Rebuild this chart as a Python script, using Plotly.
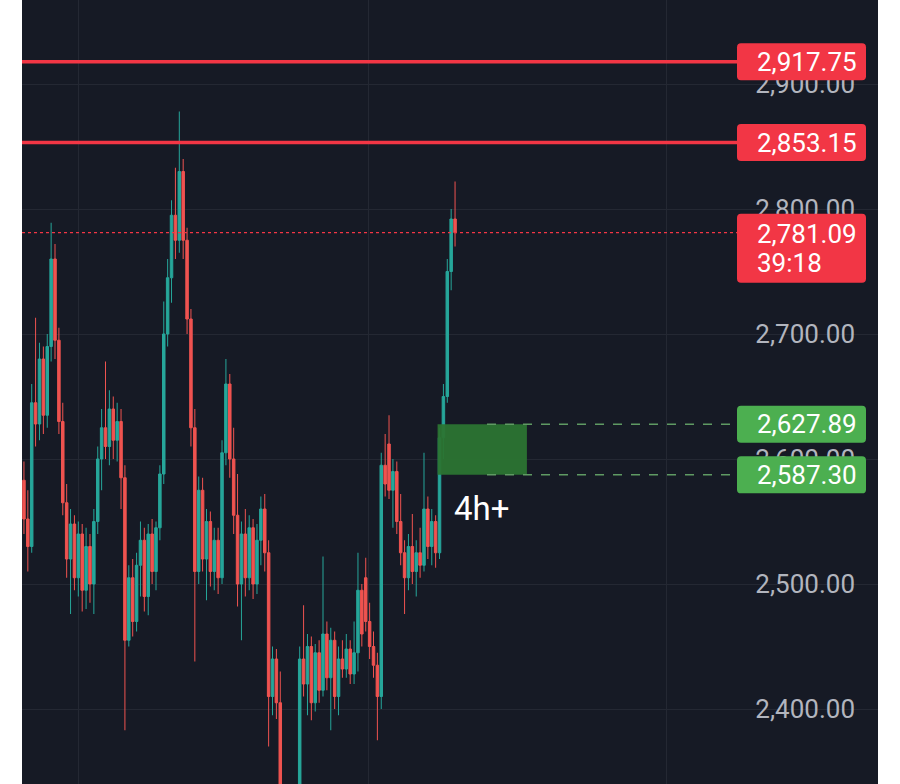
import plotly.graph_objects as go

# ---------------- data ----------------
opens = [2583, 2552, 2530, 2645, 2628, 2680, 2635, 2690, 2760, 2695,
         2630, 2565, 2520, 2548, 2505, 2540, 2495, 2530, 2500, 2550,
         2600, 2625, 2610, 2640, 2615, 2630, 2585, 2455, 2505, 2470,
         2515, 2535, 2490, 2540, 2510, 2545, 2588, 2700, 2745, 2795,
         2775, 2830, 2775, 2712, 2625, 2510, 2575, 2520, 2550, 2510,
         2535, 2505, 2605, 2660, 2600, 2555, 2500, 2540, 2505, 2545,
         2500, 2535, 2560, 2525, 2410, 2440, 2405, 2330, 2300, 2320,
         2305, 2325, 2440, 2420, 2450, 2405, 2445, 2415, 2460, 2425,
         2455, 2410, 2440, 2432, 2448, 2428, 2445, 2495, 2505, 2470,
         2450, 2435, 2410, 2595, 2612, 2575, 2590, 2550, 2525, 2505,
         2530, 2510, 2525, 2515, 2560, 2530, 2550, 2525, 2617, 2650,
         2750, 2792]
highs = [2598, 2575, 2660, 2713, 2693, 2690, 2700, 2789, 2772, 2705,
         2645, 2580, 2560, 2555, 2550, 2548, 2545, 2540, 2560, 2610,
         2640, 2678, 2655, 2650, 2645, 2640, 2595, 2515, 2520, 2525,
         2550, 2545, 2548, 2552, 2550, 2595, 2726, 2760, 2807, 2833,
         2878, 2840, 2785, 2720, 2640, 2586, 2585, 2560, 2558, 2545,
         2545, 2615, 2680, 2668, 2625, 2588, 2550, 2560, 2555, 2552,
         2548, 2570, 2572, 2535, 2450, 2448, 2430, 2336, 2330, 2334,
         2335, 2450, 2483, 2460, 2458, 2452, 2455, 2522, 2470, 2465,
         2462, 2450, 2455, 2460, 2455, 2470, 2525, 2500, 2521, 2485,
         2462, 2445, 2605, 2620, 2635, 2600, 2598, 2572, 2535, 2540,
         2556, 2535, 2545, 2605, 2570, 2560, 2555, 2625, 2660, 2760,
         2800, 2822]
lows = [2540, 2510, 2525, 2610, 2615, 2620, 2625, 2678, 2680, 2620,
        2555, 2505, 2476, 2495, 2490, 2478, 2480, 2485, 2476, 2540,
        2575, 2600, 2595, 2600, 2598, 2560, 2383, 2450, 2458, 2462,
        2490, 2478, 2475, 2500, 2495, 2535, 2580, 2690, 2725, 2760,
        2765, 2760, 2700, 2610, 2438, 2500, 2510, 2487, 2498, 2495,
        2492, 2500, 2595, 2585, 2540, 2482, 2455, 2490, 2495, 2488,
        2492, 2515, 2510, 2370, 2395, 2392, 2310, 2290, 2285, 2295,
        2290, 2315, 2410, 2395, 2391, 2398, 2405, 2410, 2415, 2383,
        2400, 2395, 2425, 2425, 2420, 2420, 2430, 2450, 2462, 2440,
        2425, 2375, 2400, 2570, 2568, 2545, 2540, 2515, 2476, 2495,
        2500, 2490, 2505, 2510, 2520, 2515, 2513, 2520, 2600, 2645,
        2735, 2770]
closes = [2552, 2530, 2645, 2628, 2680, 2635, 2690, 2760, 2695, 2630,
          2565, 2520, 2548, 2505, 2540, 2495, 2530, 2500, 2550, 2600,
          2625, 2610, 2640, 2615, 2630, 2585, 2455, 2505, 2470, 2515,
          2535, 2490, 2540, 2510, 2545, 2588, 2700, 2745, 2795, 2775,
          2830, 2775, 2712, 2625, 2510, 2575, 2520, 2550, 2510, 2535,
          2505, 2605, 2660, 2600, 2555, 2500, 2540, 2505, 2545, 2500,
          2535, 2560, 2525, 2410, 2440, 2405, 2330, 2300, 2320, 2305,
          2325, 2440, 2420, 2450, 2405, 2445, 2415, 2460, 2425, 2455,
          2410, 2440, 2432, 2448, 2428, 2445, 2495, 2460, 2470, 2450,
          2435, 2410, 2595, 2580, 2575, 2590, 2550, 2525, 2505, 2530,
          2510, 2525, 2515, 2560, 2530, 2550, 2525, 2617, 2650, 2750,
          2792, 2781.09]

red_levels = [2917.75, 2853.15]
last_price = 2781.09
countdown = "39:18"
zone_top = 2627.89
zone_bottom = 2587.30
zone_start_bar = 107
zone_bars = 23
zone_label = "4h+"
y_ticks = [2400, 2500, 2600, 2700, 2800, 2900]

# ---------------- styling / geometry ----------------
W, H = 900, 784
ML, MR = 22, 22
PW = W - ML - MR
Y0, Y1 = 2340.0, 2967.2
U_PER_PX = (Y1 - Y0) / H
N = len(closes)
BAR_PX = 435.0 / N
X0 = -0.5
X1 = X0 + PW / BAR_PX

BG = "#161a25"
RED = "#f23645"
GREEN = "#4caf50"
TEAL = "#26a69a"
CRED = "#ef5350"
GRID = "#242833"
FONT = "Roboto"


def px_to_paper(px):
    return (px - ML) / PW


def px_to_bar(px):
    return (px - ML) / BAR_PX - 0.5


x = list(range(N))

fig = go.Figure()
fig.add_trace(go.Candlestick(
    x=x, open=opens, high=highs, low=lows, close=closes,
    increasing=dict(line=dict(color=TEAL, width=1), fillcolor=TEAL),
    decreasing=dict(line=dict(color=CRED, width=1), fillcolor=CRED),
    whiskerwidth=0, showlegend=False, hoverinfo="skip",
))

shapes = []
annotations = []

badge_l = px_to_paper(737)
badge_r = px_to_paper(866)
text_x = px_to_paper(755)


def badge(y_top, y_bot, color):
    rx = 4 / PW
    ry = 4 * U_PER_PX
    x0, x1 = badge_l, badge_r
    path = (f"M {x0+rx},{y_top} L {x1-rx},{y_top} Q {x1},{y_top} {x1},{y_top-ry} "
            f"L {x1},{y_bot+ry} Q {x1},{y_bot} {x1-rx},{y_bot} "
            f"L {x0+rx},{y_bot} Q {x0},{y_bot} {x0},{y_bot+ry} "
            f"L {x0},{y_top-ry} Q {x0},{y_top} {x0+rx},{y_top} Z")
    return dict(type="path", xref="paper", yref="y", path=path,
                fillcolor=color, line=dict(width=0), layer="above")


# red solid levels
for lv in red_levels:
    shapes.append(dict(type="line", xref="paper", yref="y", x0=0, x1=badge_l,
                       y0=lv, y1=lv, line=dict(color=RED, width=3.5), layer="above"))
    shapes.append(badge(lv + 18.5 * U_PER_PX, lv - 18.5 * U_PER_PX, RED))
    annotations.append(dict(xref="paper", yref="y", x=text_x, y=lv, xanchor="left",
                            yanchor="middle", text=f"{lv:,.2f}", showarrow=False,
                            font=dict(family=FONT, size=26, color="#ffffff")))

# last price dotted line + badge
shapes.append(dict(type="line", xref="paper", yref="y", x0=0, x1=badge_l,
                   y0=last_price, y1=last_price,
                   line=dict(color=RED, width=1.2, dash="dot"), layer="above"))
shapes.append(badge(last_price + 19 * U_PER_PX, last_price - 50 * U_PER_PX, RED))
annotations.append(dict(xref="paper", yref="y", x=text_x, y=last_price, xanchor="left",
                        yanchor="middle", text=f"{last_price:,.2f}", showarrow=False,
                        yshift=-1, font=dict(family=FONT, size=26, color="#ffffff")))
annotations.append(dict(xref="paper", yref="y", x=text_x, y=last_price, xanchor="left",
                        yanchor="middle", text=countdown, showarrow=False,
                        yshift=-30, font=dict(family=FONT, size=26, color="#ffffff")))

# green zone
zx0 = zone_start_bar - 0.5
zx1 = zx0 + zone_bars
shapes.append(dict(type="rect", xref="x", yref="y", x0=zx0, x1=zx1,
                   y0=zone_bottom, y1=zone_top, fillcolor="#2b7432",
                   line=dict(width=0), layer="above", opacity=0.95))
for lv in [zone_top, zone_bottom]:
    shapes.append(dict(type="line", xref="x", yref="y", x0=px_to_bar(487), x1=px_to_bar(737),
                       y0=lv, y1=lv, line=dict(color="#5f9a63", width=1.5, dash="dash"),
                       layer="above"))
    shapes.append(badge(lv + 18.5 * U_PER_PX, lv - 18.5 * U_PER_PX, GREEN))
    annotations.append(dict(xref="paper", yref="y", x=text_x, y=lv, xanchor="left",
                            yanchor="middle", text=f"{lv:,.2f}", showarrow=False,
                            font=dict(family=FONT, size=26, color="#ffffff")))

annotations.append(dict(xref="x", yref="y", x=zx0, y=zone_bottom, xanchor="left",
                        yanchor="top", text=zone_label, showarrow=False,
                        xshift=14, yshift=-12,
                        font=dict(family=FONT, size=33, color="#ffffff")))

fig.update_layout(
    width=W, height=H,
    margin=dict(l=ML, r=MR, t=0, b=0),
    paper_bgcolor="#ffffff",
    plot_bgcolor=BG,
    boxgap=0.08,
    shapes=shapes,
    annotations=annotations,
    showlegend=False,
    xaxis=dict(range=[X0, X1], rangeslider=dict(visible=False),
               showticklabels=False, ticks="", zeroline=False,
               showgrid=True, gridcolor=GRID, gridwidth=1,
               tickmode="array",
               tickvals=[px_to_bar(78), px_to_bar(368), px_to_bar(666)],
               showline=False, fixedrange=True),
    yaxis=dict(range=[Y0, Y1], side="right", ticklabelposition="inside",
               tickmode="array", tickvals=y_ticks,
               ticktext=[f"{v:,.2f}" for v in y_ticks],
               ticks="", ticklabelstandoff=20,
               tickfont=dict(family=FONT, size=26, color="#b2b5be"),
               showgrid=True, gridcolor=GRID, gridwidth=1, zeroline=False,
               showline=False, fixedrange=True),
)

fig.write_html(
    "out.html",
    config={"displayModeBar": False},
    post_script="document.body.style.margin='0';document.body.style.padding='0';",
)
